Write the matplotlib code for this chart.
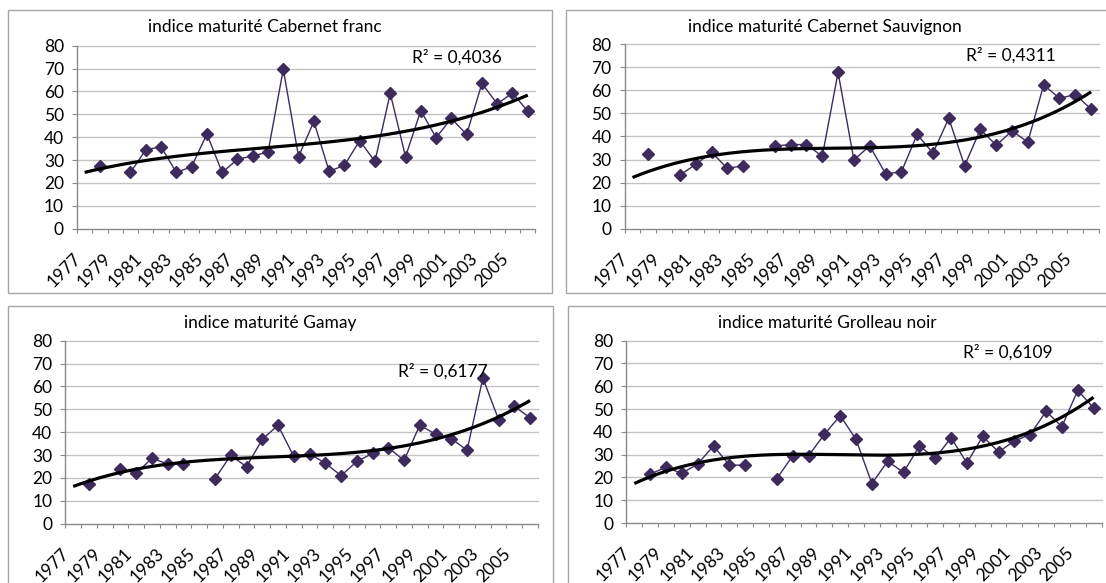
import matplotlib
matplotlib.use("Agg")
import matplotlib.pyplot as plt
import numpy as np
from matplotlib.patches import Rectangle
from matplotlib.transforms import ScaledTranslation

plt.rcParams["font.family"] = ["Lato", "DejaVu Sans"]

nan = np.nan
years = list(range(1977, 2007))

cab_franc = [nan, 27.5, nan, 24.6, 34.5, 35.8, 24.6, 27.1, 41.4, 24.6,
             30.3, 31.9, 33.4, 69.7, 31.5, 46.9, 25.1, 27.7, 38.5, 29.4,
             59.2, 31.5, 51.6, 39.8, 48.2, 41.2, 63.5, 54.6, 59.3, 51.4]
cab_sauv = [nan, 32.3, nan, 23.3, 27.9, 33.1, 26.2, 27.3, nan, 35.9,
            36.5, 36.5, 31.4, 67.8, 29.9, 35.9, 23.9, 24.6, 40.9, 32.8,
            47.9, 27.3, 43.1, 36.2, 42.4, 37.6, 62.4, 56.6, 58.2, 51.9]
gamay = [nan, 17.3, nan, 24.0, 22.1, 28.6, 26.1, 26.1, nan, 19.7,
         29.9, 24.9, 36.9, 43.0, 29.4, 30.5, 26.5, 21.0, 27.2, 30.7,
         33.2, 27.7, 43.1, 39.1, 37.2, 32.1, 63.7, 45.5, 51.3, 46.3]
grolleau = [nan, 21.5, 24.4, 21.8, 25.9, 33.8, 25.4, 25.4, nan, 19.5,
            29.5, 29.5, 38.9, 47.1, 36.7, 17.3, 27.1, 22.2, 33.8, 28.4,
            37.4, 26.3, 38.0, 31.2, 36.0, 38.8, 49.0, 42.3, 58.2, 50.5]

titles = ["indice maturité Cabernet franc", "indice maturité Cabernet Sauvignon",
          "indice maturité Gamay", "indice maturité Grolleau noir"]
r2_labels = ["R² = 0,4036", "R² = 0,4311", "R² = 0,6177", "R² = 0,6109"]
series = [cab_franc, cab_sauv, gamay, grolleau]

W, H = 1106, 583
fig = plt.figure(figsize=(W / 100, H / 100), dpi=100)
fig.patch.set_facecolor("white")

def fx(px):
    return px / W

def fy(py):
    return 1 - py / H

# pixel layout: outer box, plot area, title anchor, R² anchor
boxes = [(8, 10, 551.7, 292.7), (565.7, 10, 1112, 292.7),
         (7.8, 305.7, 553.3, 590), (567.7, 305.7, 1112, 590)]
areas = [(77, 45.7, 535.4, 228.7), (624.6, 44.3, 1099, 228.7),
         (65.3, 340.7, 538, 523.7), (626.4, 340.7, 1101.5, 523)]
title_pos = [(264.6, 32.3), (824.8, 32.3), (270.7, 327.7), (827.8, 327.7)]
r2_pos = [(412, 62.3), (966.4, 60.7), (397.9, 376.3), (963.2, 358)]

purple = "#3d2b5e"
grid_c = "#c4c4c4"
axis_c = "#8a8a8a"
fs = 12.5

for k in range(4):
    bx0, by0, bx1, by1 = boxes[k]
    fig.patches.append(Rectangle((fx(bx0), fy(by1)), fx(bx1 - bx0), (by1 - by0) / H,
                                 transform=fig.transFigure, fill=False,
                                 edgecolor="#a6a6a6", lw=1.0))
    x0, y0, x1, y1 = areas[k]
    ax = fig.add_axes([fx(x0), fy(y1), fx(x1 - x0), (y1 - y0) / H])
    ax.set_facecolor("none")

    x = np.arange(len(years))
    y = np.array(series[k], dtype=float)
    ax.plot(x, y, color=purple, lw=1.0, marker="D", ms=6.0,
            mfc=purple, mec=purple, zorder=3)

    # third order polynomial trend
    ok = ~np.isnan(y)
    coef = np.polyfit(x[ok], y[ok], 3)
    xs = np.linspace(0, len(years) - 1, 200)
    ax.plot(xs, np.polyval(coef, xs), color="black", lw=2.3, zorder=4,
            solid_capstyle="butt")

    ax.set_xlim(-0.5, len(years) - 0.5)
    ax.set_ylim(0, 80)
    ax.set_yticks(range(0, 81, 10))
    for v in range(10, 81, 10):
        ax.axhline(v, color=grid_c, lw=1.0, zorder=1, clip_on=False)

    for s in ["top", "right"]:
        ax.spines[s].set_visible(False)
    ax.spines["left"].set_color(axis_c)
    ax.spines["bottom"].set_color(axis_c)
    ax.spines["left"].set_linewidth(1.0)
    ax.spines["bottom"].set_linewidth(1.0)
    ax.tick_params(axis="y", direction="out", length=3.4, width=0.8,
                   color=axis_c, labelsize=fs, pad=6.0, labelcolor="black")

    # tick marks between categories, labels every second year
    ax.set_xticks(np.arange(-0.5, len(years), 1.0))
    ax.set_xticklabels([])
    ax.tick_params(axis="x", direction="out", length=3.0, width=0.8, color=axis_c)
    off = ScaledTranslation(-6.5 / 100, -27 / 100, fig.dpi_scale_trans)
    for i in range(0, len(years), 2):
        ax.text(i, 0, str(years[i]), transform=ax.get_xaxis_transform() + off,
                rotation=45, ha="right", va="center", rotation_mode="anchor",
                fontsize=fs, clip_on=False)

    tx, ty = title_pos[k]
    fig.text(fx(tx), fy(ty), titles[k], ha="center", va="baseline", fontsize=fs)
    rx, ry = r2_pos[k]
    fig.text(fx(rx), fy(ry), r2_labels[k], ha="left", va="baseline", fontsize=fs)

fig.savefig("out.png", dpi=100, facecolor="white")
